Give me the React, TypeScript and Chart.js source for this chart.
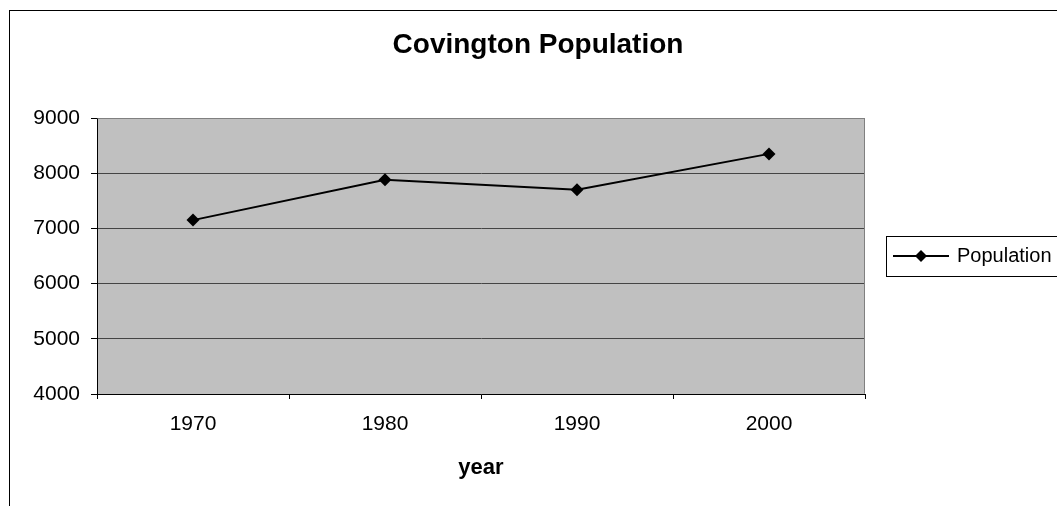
import { useEffect, useRef } from 'react';
import { Chart, registerables } from 'chart.js';

Chart.register(...registerables);

const chartTitle = 'Covington Population';
const xAxisTitle = 'year';
const seriesName = 'Population';
const years = ['1970', '1980', '1990', '2000'];
const population = [7150, 7880, 7700, 8350];
const yMin = 4000;
const yMax = 9000;
const yStep = 1000;

const FONT = '"Liberation Sans", Arial, sans-serif';

export default function App() {
  const ref = useRef<HTMLCanvasElement>(null);

  useEffect(() => {
    const canvas = ref.current!;
    const decor = {
      id: 'decor',
      beforeDraw(chart: any) {
        const { ctx, chartArea: a } = chart;
        ctx.save();
        ctx.fillStyle = '#ffffff';
        ctx.fillRect(0, 0, chart.width, chart.height);
        ctx.fillStyle = '#C0C0C0';
        ctx.fillRect(a.left, a.top, a.right - a.left, a.bottom - a.top);
        ctx.strokeStyle = '#000000';
        ctx.lineWidth = 1;
        ctx.strokeRect(9.5, 10.5, chart.width + 20, chart.height + 20);
        ctx.restore();
      },
      afterDraw(chart: any) {
        const { ctx, chartArea: a } = chart;
        ctx.save();
        // plot area border (top / right)
        ctx.strokeStyle = '#808080';
        ctx.lineWidth = 1;
        ctx.beginPath();
        ctx.moveTo(Math.round(a.left) + 0.5, Math.round(a.top) + 0.5);
        ctx.lineTo(Math.round(a.right) - 0.5, Math.round(a.top) + 0.5);
        ctx.lineTo(Math.round(a.right) - 0.5, Math.round(a.bottom) - 0.5);
        ctx.stroke();
        // title
        ctx.fillStyle = '#000000';
        ctx.font = `bold 28px ${FONT}`;
        ctx.textAlign = 'center';
        ctx.textBaseline = 'middle';
        ctx.fillText(chartTitle, 538, 45);
        // legend
        const lx = 886.5;
        const ly = 236.5;
        ctx.strokeStyle = '#000000';
        ctx.lineWidth = 1;
        ctx.strokeRect(lx, ly, 250, 40);
        const cy = 256;
        ctx.lineWidth = 2;
        ctx.beginPath();
        ctx.moveTo(893, cy);
        ctx.lineTo(949, cy);
        ctx.stroke();
        ctx.fillStyle = '#000000';
        ctx.beginPath();
        ctx.moveTo(921, cy - 6);
        ctx.lineTo(927, cy);
        ctx.lineTo(921, cy + 6);
        ctx.lineTo(915, cy);
        ctx.closePath();
        ctx.fill();
        ctx.font = `20px ${FONT}`;
        ctx.textAlign = 'left';
        ctx.textBaseline = 'middle';
        ctx.fillText(seriesName, 957, cy);
        ctx.restore();
      },
    };

    const chart = new Chart(canvas, {
      type: 'line',
      data: {
        labels: years,
        datasets: [
          {
            label: seriesName,
            data: population,
            borderColor: '#000000',
            backgroundColor: '#000000',
            borderWidth: 2,
            pointStyle: 'rectRot',
            pointRadius: 6.5,
            pointBackgroundColor: '#000000',
            pointBorderColor: '#000000',
            pointBorderWidth: 0,
            tension: 0,
          },
        ],
      },
      options: {
        responsive: false,
        animation: false,
        devicePixelRatio: 1,
        layout: { padding: { left: 0, top: 118, right: 192, bottom: 0 } },
        plugins: {
          legend: { display: false },
          title: { display: false },
          tooltip: { enabled: false },
        },
        scales: {
          x: {
            type: 'category',
            offset: true,
            grid: {
              display: true,
              drawOnChartArea: false,
              drawTicks: true,
              tickLength: 5,
              offset: true,
              color: '#000000',
            },
            border: { display: true, color: '#000000', width: 1 },
            ticks: {
              color: '#000000',
              font: { family: FONT, size: 21 },
              padding: 13,
              maxRotation: 0,
              autoSkip: false,
            },
            title: {
              display: true,
              text: xAxisTitle,
              color: '#000000',
              font: { family: FONT, size: 22, weight: 'bold' },
              padding: { top: 0, bottom: 25 },
            },
            afterFit: (s: any) => {
              s.height = 112;
            },
          },
          y: {
            min: yMin,
            max: yMax,
            ticks: {
              stepSize: yStep,
              color: '#000000',
              font: { family: FONT, size: 21 },
              padding: 11,
              callback: (v: any) => String(v),
            },
            grid: {
              color: (c: any) => (c.tick && c.tick.value === yMax ? '#808080' : '#444444'),
              tickLength: 6,
              tickColor: '#000000',
            },
            border: { display: true, color: '#000000', width: 1 },
            afterFit: (s: any) => {
              s.width = 97;
            },
          },
        },
      },
      plugins: [decor],
    } as any);

    return () => chart.destroy();
  }, []);

  return (
    <div style={{ position: 'absolute', left: 0, top: 0, width: 1057, height: 506 }}>
      <canvas ref={ref} width={1057} height={506} style={{ display: 'block' }} />
    </div>
  );
}
